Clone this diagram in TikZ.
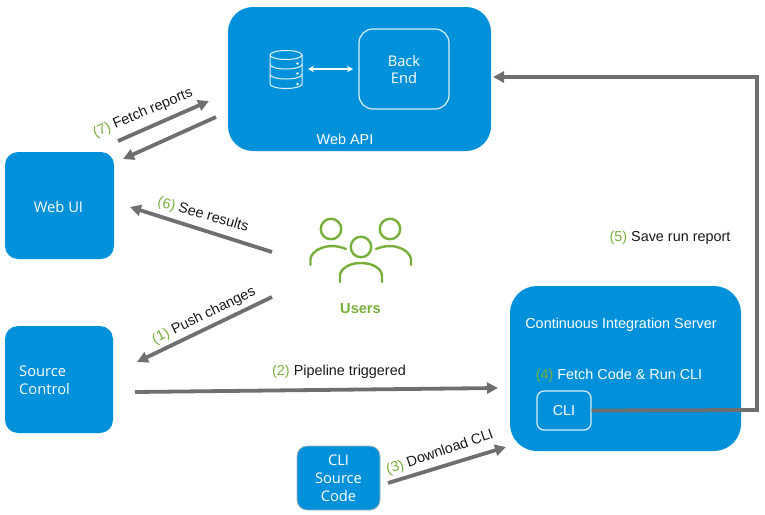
\documentclass[tikz,border=0pt]{standalone}
\usepackage{fontspec}
\setmainfont{Liberation Sans}
\newfontfamily\boxfont{Open Sans}
\usetikzlibrary{arrows.meta,calc}
\definecolor{vblue}{HTML}{0091DA}
\definecolor{vgray}{HTML}{6F6F72}
\definecolor{vgreen}{HTML}{78AF3C}
\newcommand{\stepnum}[1]{\textcolor{vgreen}{(#1)}}
\tikzset{
  x=1pt,y=-1pt,
  panel/.style={fill=vblue,draw=none,text=white,align=center,font=\boxfont\fontsize{14.7}{18}\selectfont,inner sep=0pt},
  inner panel/.style={draw=white!85!vblue,line width=1.2pt,text=white,align=center,font=\boxfont\fontsize{14.7}{17}\selectfont,inner sep=0pt},
  flow/.style={draw=vgray,line width=3.8pt,-{Triangle[length=11pt,width=11pt]}},
  steplabel/.style={font=\fontsize{14.4}{16}\selectfont,text=black!90,inner sep=0pt},
  paneltext/.style={font=\fontsize{14.4}{16}\selectfont,text=white,inner sep=0pt},
  usericon/.style={draw=vgreen,line width=2.4pt,line cap=round},
  dbicon/.style={draw=white!90!vblue,line width=1pt},
}
\begin{document}
\begin{tikzpicture}
\useasboundingbox (0,0) rectangle (765,514);
% panels
\node[panel,minimum width=263pt,minimum height=144pt,rounded corners=25pt] (webapi) at (359.5,79) {};
\node[paneltext] (webapilabel) at (345,139) {Web API};
\node[inner panel,minimum width=90pt,minimum height=80pt,rounded corners=14pt] (backend) at (404,69) {Back\\End};
\node[panel,minimum width=109pt,minimum height=107pt,rounded corners=13pt] (webui) at (59.5,205.5) {};
\node[panel,fill=none] (webuilabel) at (58.5,206.5) {Web UI};
\node[panel,minimum width=108pt,minimum height=107pt,rounded corners=13pt] (source) at (59,379.5) {};
\node[panel,anchor=west,align=left,fill=none] (sourcelabel) at (19,380.5) {Source\\Control};
\node[panel,minimum width=231pt,minimum height=165pt,rounded corners=27pt] (ci) at (625.5,368.5) {};
\node[paneltext] (cilabel) at (621,324.5) {Continuous Integration Server};
\node[paneltext] (cistep) at (619,375.5) {\textcolor{vgreen}{(4)} Fetch Code \& Run CLI};
\node[inner panel,minimum width=54pt,minimum height=39pt,rounded corners=7pt,font=\fontsize{14.4}{16}\selectfont] (cli) at (564,410.5) {CLI};
\node[panel,minimum width=83pt,minimum height=64pt,rounded corners=10pt,draw=black!30,line width=0.8pt] (clisrc) at (338.5,478) {CLI\\Source\\Code};
% database icon
\draw[dbicon] (270,55) arc[start angle=180,end angle=540,x radius=16pt,y radius=4.5pt];
\draw[dbicon] (270,55) -- (270,84) arc[start angle=180,end angle=360,x radius=16pt,y radius=4.5pt] -- (302,55);
\draw[dbicon] (270,64.5) arc[start angle=180,end angle=360,x radius=16pt,y radius=4.5pt];
\draw[dbicon] (270,74.5) arc[start angle=180,end angle=360,x radius=16pt,y radius=4.5pt];
\fill[white] (297.5,63.5) circle[radius=1.3pt] (297.5,73.5) circle[radius=1.3pt] (297.5,84) circle[radius=1.3pt];
\coordinate (dbright) at (308,69);
\coordinate (beleft) at (353,69);
\draw[white,line width=1.3pt,{Stealth[length=6pt,width=6.5pt]}-{Stealth[length=6pt,width=6.5pt]}] (dbright) -- (beleft);
% users icon
\node[circle,usericon,minimum size=20.5pt,inner sep=0pt] (userA) at (331,229) {};
\node[circle,usericon,minimum size=20.5pt,inner sep=0pt] (userB) at (390,229) {};
\node[circle,usericon,minimum size=20.5pt,inner sep=0pt] (userC) at (361,247) {};
\draw[usericon] (310.5,265) -- (310.5,259) .. controls (311,251) and (327,241) .. (346,249);
\draw[usericon] (376,249) .. controls (395,241) and (410,251) .. (411,259) -- (411,265);
\draw[usericon] (340,282) -- (340,275) .. controls (341,268) and (350,263) .. (361,263) .. controls (372,263) and (381,268) .. (382,275) -- (382,282);
\node[font=\bfseries\fontsize{14.6}{16}\selectfont,text=vgreen,inner sep=0pt] (users) at (360.5,308.5) {Users};
% free ends
\coordinate (f7a) at (118,141);
\coordinate (f7b) at (209,101);
\coordinate (f7c) at (216,117);
\coordinate (f7d) at (123,159);
\coordinate (f6a) at (272,252);
\coordinate (f6b) at (130,207);
\coordinate (f1a) at (272,297);
\coordinate (f1b) at (137,362);
\coordinate (f2a) at (135,392);
\coordinate (f2b) at (498,388);
\coordinate (f3a) at (388,483);
\coordinate (f3b) at (506,447);
\coordinate (f5a) at (757,410);
\coordinate (f5b) at (757,77);
\coordinate (f5c) at (493,77);
% connectors
\draw[flow] (f7a) -- (f7b);
\draw[flow] (f7c) -- (f7d);
\draw[flow] (f6a) -- (f6b);
\draw[flow] (f1a) -- (f1b);
\draw[flow] (f2a) -- (f2b);
\draw[flow] (f3a) -- (f3b);
\draw[flow] (cli.east) -- (f5a) -- (f5b) -- (f5c);
% step labels
\node[steplabel,rotate=23] (l7) at (143,113) {\stepnum{7} Fetch reports};
\node[steplabel,rotate=-16] (l6) at (203,215) {\stepnum{6} See results};
\node[steplabel,rotate=26] (l1) at (204,316) {\stepnum{1} Push changes};
\node[steplabel] (l2) at (339,371.5) {\stepnum{2} Pipeline triggered};
\node[steplabel,rotate=19] (l3) at (440,452.5) {\stepnum{3} Download CLI};
\node[steplabel] (l5) at (670,237.5) {\stepnum{5} Save run report};
\end{tikzpicture}
\end{document}
